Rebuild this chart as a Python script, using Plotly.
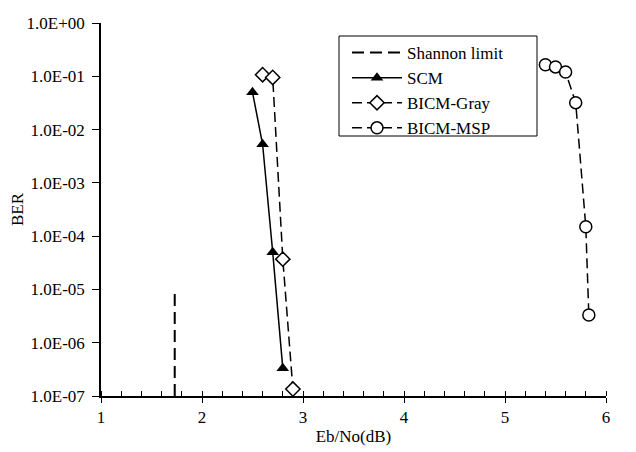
import plotly.graph_objects as go

# Data
shannon_x = [1.73, 1.73]
shannon_y = [1e-7, 1e-5]

scm_x = [2.5, 2.6, 2.7, 2.8]
scm_y = [5.0e-2, 5.3e-3, 5.0e-5, 3.3e-7]

gray_x = [2.6, 2.7, 2.8, 2.9]
gray_y = [1.07e-1, 9.5e-2, 3.7e-5, 1.35e-7]

msp_x = [5.4, 5.5, 5.6, 5.7, 5.8, 5.83]
msp_y = [1.65e-1, 1.5e-1, 1.2e-1, 3.2e-2, 1.5e-4, 3.3e-6]

ytick_vals = [1e0, 1e-1, 1e-2, 1e-3, 1e-4, 1e-5, 1e-6, 1e-7]
ytick_text = ["1.0E+00", "1.0E-01", "1.0E-02", "1.0E-03", "1.0E-04", "1.0E-05", "1.0E-06", "1.0E-07"]
xtick_vals = [1, 2, 3, 4, 5, 6]

FONT = "Liberation Serif"

# plot-area geometry in pixels
W, H = 636, 452
L, R, T, B = 93, 38, 15, 64
PW, PH = W - L - R, H - T - B


def px_to_paper_x(px):
    return (px - L) / PW


def px_to_paper_y(py):
    return (H - B - py) / PH


fig = go.Figure()
fig.add_trace(go.Scatter(x=shannon_x, y=shannon_y, mode="lines", name="Shannon limit",
                         line=dict(color="black", width=2, dash="12px,6px")))
fig.add_trace(go.Scatter(x=scm_x, y=scm_y, mode="lines+markers", name="SCM",
                         line=dict(color="black", width=1.5),
                         marker=dict(symbol="triangle-up", size=11, color="black")))
fig.add_trace(go.Scatter(x=gray_x, y=gray_y, mode="lines+markers", name="BICM-Gray",
                         line=dict(color="black", width=1.5, dash="10px,5px"),
                         marker=dict(symbol="diamond", size=11, color="white",
                                     line=dict(color="black", width=1.5))))
fig.add_trace(go.Scatter(x=msp_x, y=msp_y, mode="lines+markers", name="BICM-MSP",
                         line=dict(color="black", width=1.5, dash="10px,5px"),
                         marker=dict(symbol="circle", size=12, color="white",
                                     line=dict(color="black", width=1.5))))

# legend frame
fig.add_shape(type="rect", xref="paper", yref="paper",
              x0=px_to_paper_x(331), x1=px_to_paper_x(529),
              y0=px_to_paper_y(128), y1=px_to_paper_y(28),
              line=dict(color="black", width=1), fillcolor="white", layer="below")

fig.update_layout(
    width=W, height=H,
    margin=dict(l=L, r=R, t=T, b=B, autoexpand=False),
    paper_bgcolor="white", plot_bgcolor="white",
    font=dict(family=FONT, size=17, color="black"),
    showlegend=True,
    legend=dict(x=px_to_paper_x(339), y=px_to_paper_y(27), xanchor="left", yanchor="top",
                borderwidth=0, bgcolor="rgba(0,0,0,0)",
                font=dict(family=FONT, size=17), itemwidth=50,
                tracegroupgap=0),
    xaxis=dict(range=[1, 6], tickvals=xtick_vals, showline=True, linecolor="black",
               linewidth=1.5, ticks="outside", ticklen=5, tickcolor="black",
               showgrid=False, zeroline=False, automargin=False,
               tickfont=dict(family=FONT, size=17),
               minor=dict(dtick=0.2, ticks="inside", ticklen=5, tickcolor="black"),
               title=dict(text="Eb/No(dB)", font=dict(family=FONT, size=17), standoff=4)),
    yaxis=dict(type="log", range=[-7, 0], tickvals=ytick_vals, ticktext=ytick_text,
               showline=True, linecolor="black", linewidth=1.5, ticks="outside",
               ticklen=7, tickcolor="black", showgrid=False, zeroline=False,
               automargin=False, ticklabelstandoff=4,
               tickfont=dict(family=FONT, size=17),
               title=dict(text="BER", font=dict(family=FONT, size=17), standoff=0)),
)

fig.write_html("out.html")
